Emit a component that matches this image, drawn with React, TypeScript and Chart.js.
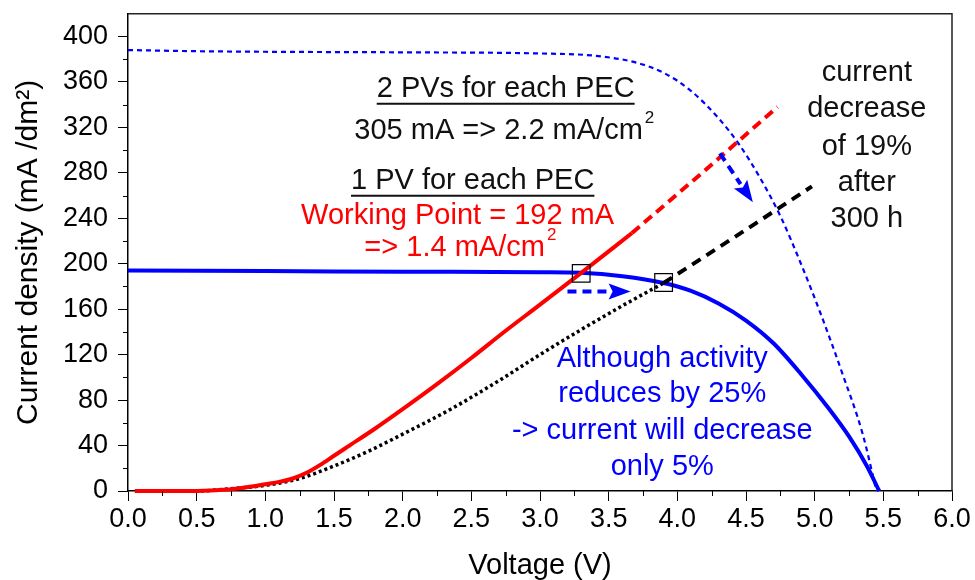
import React, { useEffect, useRef } from "react";
import { Chart, registerables } from "chart.js";

Chart.register(...registerables);

const FONT = '"Liberation Sans", Arial, Helvetica, sans-serif';

// Axis ticks
const xTicks = [0, 0.5, 1, 1.5, 2, 2.5, 3, 3.5, 4, 4.5, 5, 5.5, 6];
const yTicks = [0, 40, 80, 120, 160, 200, 240, 280, 320, 360, 400];

// 1 PV for each PEC (blue solid I-V curve)
const pv1Voltage = [0.0, 1.0, 2.0, 3.0, 3.3, 3.6, 3.9, 4.1, 4.3, 4.5, 4.7, 4.9, 5.1, 5.25, 5.38, 5.47];
const pv1Current = [194, 193.5, 193, 192.5, 192, 189, 183, 176, 165, 150, 130, 103, 73, 48, 22, 0];

// 2 PVs for each PEC (blue dotted I-V curve)
const pv2Voltage = [0.0, 0.5, 1.0, 2.0, 3.0, 3.4, 3.7, 3.9, 4.1, 4.3, 4.45, 4.6, 4.75, 4.9, 5.05, 5.2, 5.35, 5.45];
const pv2Current = [388, 387, 386.5, 386, 385, 383, 377, 368, 352, 328, 305, 276, 242, 200, 154, 104, 50, 0];

// PEC load curve, fresh (red solid + red dashed extrapolation)
const pecVoltage = [0.05, 0.5, 0.7, 0.9, 1.0, 1.1, 1.2, 1.3, 1.4, 1.5, 1.6, 1.8, 2.0, 2.25, 2.5, 2.75, 3.0, 3.3, 3.67];
const pecCurrent = [0, 0, 1, 4, 6, 8, 11, 16, 23, 31, 39, 55, 72, 94, 117, 141, 164, 192, 227];
const pecExtVoltage = [3.67, 4.2, 4.73];
const pecExtCurrent = [227, 282, 338];

// PEC load curve after 300 h (black dotted + black dashed extrapolation)
const agedVoltage = [0.05, 0.5, 0.75, 1.0, 1.25, 1.5, 1.75, 2.0, 2.35, 2.7, 3.0, 3.3, 3.6, 3.9];
const agedCurrent = [0, 0, 2, 5, 11, 22, 35, 50, 72, 97, 120, 142, 163, 183];
const agedExtVoltage = [3.9, 4.45, 4.98];
const agedExtCurrent = [183, 226, 268];

// Working points (boxes)
const wpVoltage = [3.3, 3.9];
const wpCurrent = [191.5, 183.5];

// Annotations (anchored in data units)
type Note = { text: string; sup?: string; x: number; y: number; color: string; underline?: boolean };
const NOTES: Note[] = [
  { text: "2 PVs for each PEC", x: 2.75, y: 354, color: "#111", underline: true },
  { text: "305 mA => 2.2 mA/cm", sup: "2", x: 2.74, y: 317, color: "#111" },
  { text: "1 PV for each PEC", x: 2.51, y: 273, color: "#111", underline: true },
  { text: "Working Point = 192 mA", x: 2.4, y: 242, color: "#ff0000" },
  { text: "=> 1.4 mA/cm", sup: "2", x: 2.42, y: 214, color: "#ff0000" },
  { text: "current", x: 5.38, y: 368, color: "#111" },
  { text: "decrease", x: 5.38, y: 336, color: "#111" },
  { text: "of 19%", x: 5.38, y: 303, color: "#111" },
  { text: "after", x: 5.38, y: 271, color: "#111" },
  { text: "300 h", x: 5.38, y: 239, color: "#111" },
  { text: "Although activity", x: 3.89, y: 116, color: "#0000ff" },
  { text: "reduces by 25%", x: 3.89, y: 85, color: "#0000ff" },
  { text: "-> current will decrease", x: 3.89, y: 53, color: "#0000ff" },
  { text: "only 5%", x: 3.89, y: 21, color: "#0000ff" },
];

// Arrows (data units)
const arrowStartV = [3.2, 4.31];
const arrowStartI = [175.5, 297];
const arrowEndV = [3.66, 4.55];
const arrowEndI = [175.5, 254];

const pts = (xs: number[], ys: number[]) => xs.map((x, i) => ({ x, y: ys[i] }));

const annotationPlugin = {
  id: "annotations",
  afterDraw(chart: any) {
    const { ctx, chartArea, scales } = chart;
    const xs = scales.x;
    const ys = scales.y;
    ctx.save();
    // frame top & right
    ctx.strokeStyle = "#222";
    ctx.lineWidth = 1.5;
    ctx.beginPath();
    ctx.moveTo(chartArea.left, chartArea.top);
    ctx.lineTo(chartArea.right, chartArea.top);
    ctx.lineTo(chartArea.right, chartArea.bottom);
    ctx.stroke();
    // minor ticks
    ctx.lineWidth = 1;
    ctx.strokeStyle = "#000";
    ctx.beginPath();
    for (let v = 20; v < 420; v += 40) {
      const py = Math.round(ys.getPixelForValue(v)) + 0.5;
      ctx.moveTo(chartArea.left - 5, py);
      ctx.lineTo(chartArea.left, py);
    }
    for (let v = 0.25; v < 6; v += 0.5) {
      const px = Math.round(xs.getPixelForValue(v)) + 0.5;
      ctx.moveTo(px, chartArea.bottom);
      ctx.lineTo(px, chartArea.bottom + 5);
    }
    ctx.stroke();

    // arrows
    ctx.strokeStyle = "#0000ff";
    ctx.fillStyle = "#0000ff";
    for (let i = 0; i < arrowStartV.length; i++) {
      const x0 = xs.getPixelForValue(arrowStartV[i]);
      const y0 = ys.getPixelForValue(arrowStartI[i]);
      const x1 = xs.getPixelForValue(arrowEndV[i]);
      const y1 = ys.getPixelForValue(arrowEndI[i]);
      const ang = Math.atan2(y1 - y0, x1 - x0);
      const head = 22;
      const hx = x1 - head * Math.cos(ang);
      const hy = y1 - head * Math.sin(ang);
      ctx.lineWidth = 4;
      ctx.setLineDash([9, 6]);
      ctx.beginPath();
      ctx.moveTo(x0, y0);
      ctx.lineTo(hx, hy);
      ctx.stroke();
      ctx.setLineDash([]);
      const w = 8;
      ctx.beginPath();
      ctx.moveTo(x1, y1);
      ctx.lineTo(hx + w * Math.sin(ang), hy - w * Math.cos(ang));
      ctx.lineTo(hx + 4 * Math.cos(ang), hy + 4 * Math.sin(ang));
      ctx.lineTo(hx - w * Math.sin(ang), hy + w * Math.cos(ang));
      ctx.closePath();
      ctx.fill();
    }

    // texts
    const size = 29;
    ctx.textBaseline = "middle";
    ctx.textAlign = "left";
    for (const n of NOTES) {
      ctx.font = `${size}px ${FONT}`;
      const mainW = ctx.measureText(n.text).width;
      let supW = 0;
      if (n.sup) {
        ctx.font = `${Math.round(size * 0.6)}px ${FONT}`;
        supW = ctx.measureText(n.sup).width + 2;
      }
      const total = mainW + supW;
      const cx = xs.getPixelForValue(n.x);
      const cy = ys.getPixelForValue(n.y);
      const left = cx - total / 2;
      ctx.fillStyle = n.color;
      ctx.font = `${size}px ${FONT}`;
      ctx.fillText(n.text, left, cy);
      if (n.sup) {
        ctx.font = `${Math.round(size * 0.6)}px ${FONT}`;
        ctx.fillText(n.sup, left + mainW + 2, cy - 12);
      }
      if (n.underline) {
        ctx.strokeStyle = n.color;
        ctx.lineWidth = 2;
        ctx.beginPath();
        ctx.moveTo(left, cy + 15);
        ctx.lineTo(left + mainW, cy + 15);
        ctx.stroke();
      }
    }
    ctx.restore();
  },
};

export default function App() {
  const ref = useRef<HTMLCanvasElement>(null);
  useEffect(() => {
    const canvas = ref.current;
    if (!canvas) return;
    Chart.defaults.font.family = FONT;
    Chart.defaults.color = "#000";
    const chart = new Chart(canvas, {
      type: "line",
      data: {
        datasets: [
          {
            data: pts(wpVoltage, wpCurrent),
            showLine: false,
            pointStyle: "rect",
            pointRadius: 12.5,
            pointBorderColor: "#000",
            pointBackgroundColor: "rgba(0,0,0,0)",
            pointBorderWidth: 1.2,
            borderColor: "#000",
          } as any,
          {
            data: pts(pecVoltage, pecCurrent),
            borderColor: "#ff0000",
            borderWidth: 4,
            pointRadius: 0,
            cubicInterpolationMode: "monotone",
            clip: 8,
          } as any,
          {
            data: pts(pecExtVoltage, pecExtCurrent),
            borderColor: "#ff0000",
            borderWidth: 4,
            borderDash: [10, 6],
            pointRadius: 0,
          },
          {
            data: pts(agedVoltage, agedCurrent),
            borderColor: "#000",
            borderWidth: 3.5,
            borderDash: [3, 3],
            pointRadius: 0,
            cubicInterpolationMode: "monotone",
            clip: 8,
          } as any,
          {
            data: pts(agedExtVoltage, agedExtCurrent),
            borderColor: "#000",
            borderWidth: 4,
            borderDash: [10, 7],
            pointRadius: 0,
          },
          {
            data: pts(pv1Voltage, pv1Current),
            borderColor: "#0000ff",
            borderWidth: 4,
            pointRadius: 0,
            cubicInterpolationMode: "monotone",
            clip: 8,
          } as any,
          {
            data: pts(pv2Voltage, pv2Current),
            borderColor: "#0000ff",
            borderWidth: 2.2,
            borderDash: [5, 4],
            pointRadius: 0,
            cubicInterpolationMode: "monotone",
            clip: 8,
          } as any,
        ],
      },
      options: {
        responsive: false,
        animation: false,
        devicePixelRatio: 1,
        events: [],
        layout: { padding: { top: 9, right: 23, left: 0, bottom: 0 } },
        plugins: { legend: { display: false }, tooltip: { enabled: false } },
        scales: {
          x: {
            type: "linear",
            min: 0,
            max: 6,
            afterBuildTicks: (s: any) => {
              s.ticks = xTicks.map((v) => ({ value: v }));
            },
            afterFit: (s: any) => {
              s.height = 89;
              s.paddingLeft = 0;
              s.paddingRight = 0;
            },
            grid: { drawOnChartArea: false, drawTicks: true, tickLength: 10, color: "#000", lineWidth: 1 },
            border: { display: true, color: "#000", width: 1.5 },
            ticks: {
              font: { size: 27, family: FONT },
              color: "#000",
              padding: 2,
              maxRotation: 0,
              autoSkip: false,
              callback: (v: any) => Number(v).toFixed(1),
            },
            title: {
              display: true,
              text: "Voltage (V)",
              font: { size: 29, family: FONT, lineHeight: 1 },
              color: "#000",
              padding: { top: 0, bottom: 0 },
            },
          },
          y: {
            type: "linear",
            min: 0,
            max: 420,
            afterBuildTicks: (s: any) => {
              s.ticks = yTicks.map((v) => ({ value: v }));
            },
            afterFit: (s: any) => {
              s.width = 128;
              s.paddingTop = 0;
              s.paddingBottom = 0;
            },
            grid: { drawOnChartArea: false, drawTicks: true, tickLength: 10, color: "#000", lineWidth: 1 },
            border: { display: true, color: "#000", width: 1.5 },
            ticks: {
              font: { size: 27, family: FONT },
              color: "#000",
              padding: 10,
              autoSkip: false,
              callback: (v: any) => String(v),
            },
            title: {
              display: true,
              text: "Current density (mA /dm²)",
              font: { size: 30, family: FONT, lineHeight: 1 },
              color: "#000",
              padding: { top: 14, bottom: 0 },
            },
          },
        },
      },
      plugins: [annotationPlugin],
    });
    return () => chart.destroy();
  }, []);
  return (
    <div style={{ position: "absolute", left: 0, top: 0, width: 975, height: 580, background: "#fff" }}>
      <canvas ref={ref} width={975} height={580} style={{ display: "block", width: 975, height: 580 }} />
    </div>
  );
}
